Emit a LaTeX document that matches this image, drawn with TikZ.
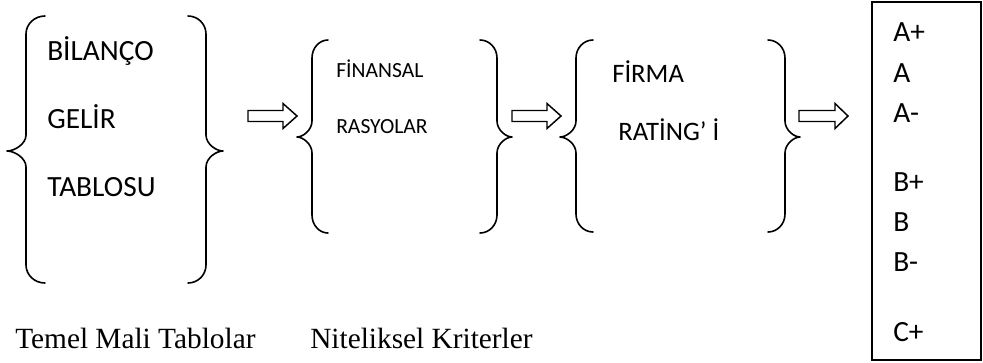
\documentclass[tikz,border=0pt]{standalone}
\usepackage{fontspec}
\setmainfont{Carlito}
\newfontfamily\timesf{Liberation Serif}
\begin{document}
\begin{tikzpicture}[x=0.75pt,y=-0.75pt,
  br/.style={line width=1.2pt,line cap=round,line join=round},
  blockarrow/.style={line width=1.1pt,line join=miter,fill=white},
  big/.style={font=\fontsize{22}{24}\selectfont,anchor=base west,inner sep=0pt},
  mid/.style={font=\fontsize{20}{22}\selectfont,anchor=base west,inner sep=0pt},
  small/.style={font=\fontsize{16.2}{18}\selectfont,anchor=base west,inner sep=0pt},
  captext/.style={font=\timesf\fontsize{22}{24}\selectfont,anchor=base west,inner sep=0pt}]
\useasboundingbox (0,0) rectangle (983,362);
% brace macro: #1 end x, #2 vertical x, #3 tip x, #4 top y, #5 mid y, #6 bottom y
\def\mybrace#1#2#3#4#5#6{%
  \draw[br] (#1,#4) .. controls ({#2+0.45*(#1-#2)},#4) and (#2,#4+8) .. (#2,#4+18) -- (#2,#5-16)
    .. controls (#2,#5-7) and ({#3+0.4*(#2-#3)},#5) .. (#3,#5)
    .. controls ({#3+0.4*(#2-#3)},#5) and (#2,#5+7) .. (#2,#5+16)
    -- (#2,#6-18) .. controls (#2,#6-8) and ({#2+0.45*(#1-#2)},#6) .. (#1,#6);}
% block arrow: #1 start x, #2 head start x, #3 tip x, #4 mid y
\def\myarrow#1#2#3#4{%
  \draw[blockarrow] (#1,#4-5.5) -- (#2,#4-5.5) -- (#2,#4-12.5) -- (#3,#4) -- (#2,#4+12.5)
    -- (#2,#4+5.5) -- (#1,#4+5.5) -- cycle;}
% group 1
\mybrace{45}{26}{7}{16}{151}{283}
\mybrace{188}{206}{223}{16}{151}{283}
\node[big] (bil) at (47,60) {BİLANÇO};
\node[big] (gel) at (47,128) {GELİR};
\node[big] (tab) at (47,196) {TABLOSU};
% arrow 1
\myarrow{248}{283}{297}{116}
% group 2
\mybrace{328}{312}{297}{40}{137}{233}
\mybrace{480}{497}{512}{40}{137}{233}
\node[small] (fin) at (336,77) {FİNANSAL};
\node[small] (ras) at (336,133) {RASYOLAR};
% arrow 2
\myarrow{512}{547}{561}{116}
% group 3
\mybrace{593}{576}{560}{40}{137}{232}
\mybrace{768}{785}{800}{40}{137}{232}
\node[mid] (fir) at (612,82) {FİRMA};
\node[mid] (rat) at (618,140) {RATİNG’ İ};
% arrow 3
\myarrow{799}{835}{848}{116}
% rating box
\draw[line width=1.1pt] (872,2) rectangle (981,360);
\node[big] (r1) at (893,41) {A+};
\node[big] (r2) at (893,82) {A};
\node[big] (r3) at (893,122) {A-};
\node[big] (r4) at (893,191) {B+};
\node[big] (r5) at (893,231) {B};
\node[big] (r6) at (893,271) {B-};
\node[big] (r7) at (893,341) {C+};
% captions
\node[captext] (c1) at (15,348) {Temel Mali Tablolar};
\node[captext] (c2) at (310,348) {Niteliksel Kriterler};
\end{tikzpicture}
\end{document}
